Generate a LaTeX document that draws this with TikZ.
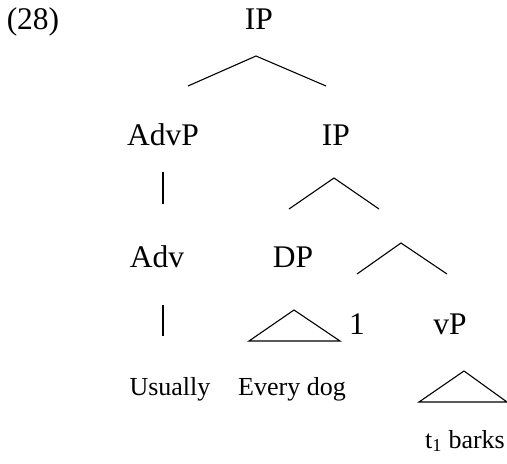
\documentclass[tikz,border=0pt]{standalone}
\usepackage{fontspec}
\setmainfont{Liberation Serif}
\begin{document}
\begin{tikzpicture}[x=1pt,y=-1pt,
  lab/.style={font=\fontsize{31.5}{33}\selectfont, anchor=base, inner sep=0pt},
  word/.style={font=\fontsize{26}{28}\selectfont, anchor=base, inner sep=0pt},
  br/.style={line width=1.1pt}]
\useasboundingbox (0,0) rectangle (507,464);
% labels
\node[lab] (ex) at (33,29) {(28)};
\node[lab] (ip1) at (259,29) {IP};
\node[lab] (advp) at (163,145) {AdvP};
\node[lab] (ip2) at (336,145) {IP};
\node[lab] (adv) at (157,267) {Adv};
\node[lab] (dp) at (293,267) {DP};
\node[lab] (one) at (357,334) {1};
\node[lab] (vp) at (450,334) {vP};
\node[word] (usually) at (170,395) {Usually};
\node[word] (everydog) at (292,395) {Every dog};
\node[word] (tbarks) at (465,448) {t\textsubscript{1} barks};
% branch points
\coordinate (a1) at (256,56);
\coordinate (a1l) at (188,86);
\coordinate (a1r) at (326,86);
\coordinate (v1t) at (163,172);
\coordinate (v1b) at (163,204);
\coordinate (a2) at (334,178);
\coordinate (a2l) at (289,209);
\coordinate (a2r) at (379,209);
\coordinate (a3) at (401,243);
\coordinate (a3l) at (357,274);
\coordinate (a3r) at (447,274);
\coordinate (v2t) at (163,305);
\coordinate (v2b) at (163,336);
\coordinate (t1) at (294,310);
\coordinate (t1l) at (249,341);
\coordinate (t1r) at (340,341);
\coordinate (t2) at (464,371);
\coordinate (t2l) at (419,402);
\coordinate (t2r) at (507,402);
% branches
\draw[br] (a1l) -- (a1) -- (a1r);
\draw[br] (v1t) -- (v1b);
\draw[br] (a2l) -- (a2) -- (a2r);
\draw[br] (a3l) -- (a3) -- (a3r);
\draw[br] (v2t) -- (v2b);
\draw[br] (t1l) -- (t1) -- (t1r) -- cycle;
\draw[br] (t2l) -- (t2) -- (t2r) -- cycle;
\end{tikzpicture}
\end{document}
